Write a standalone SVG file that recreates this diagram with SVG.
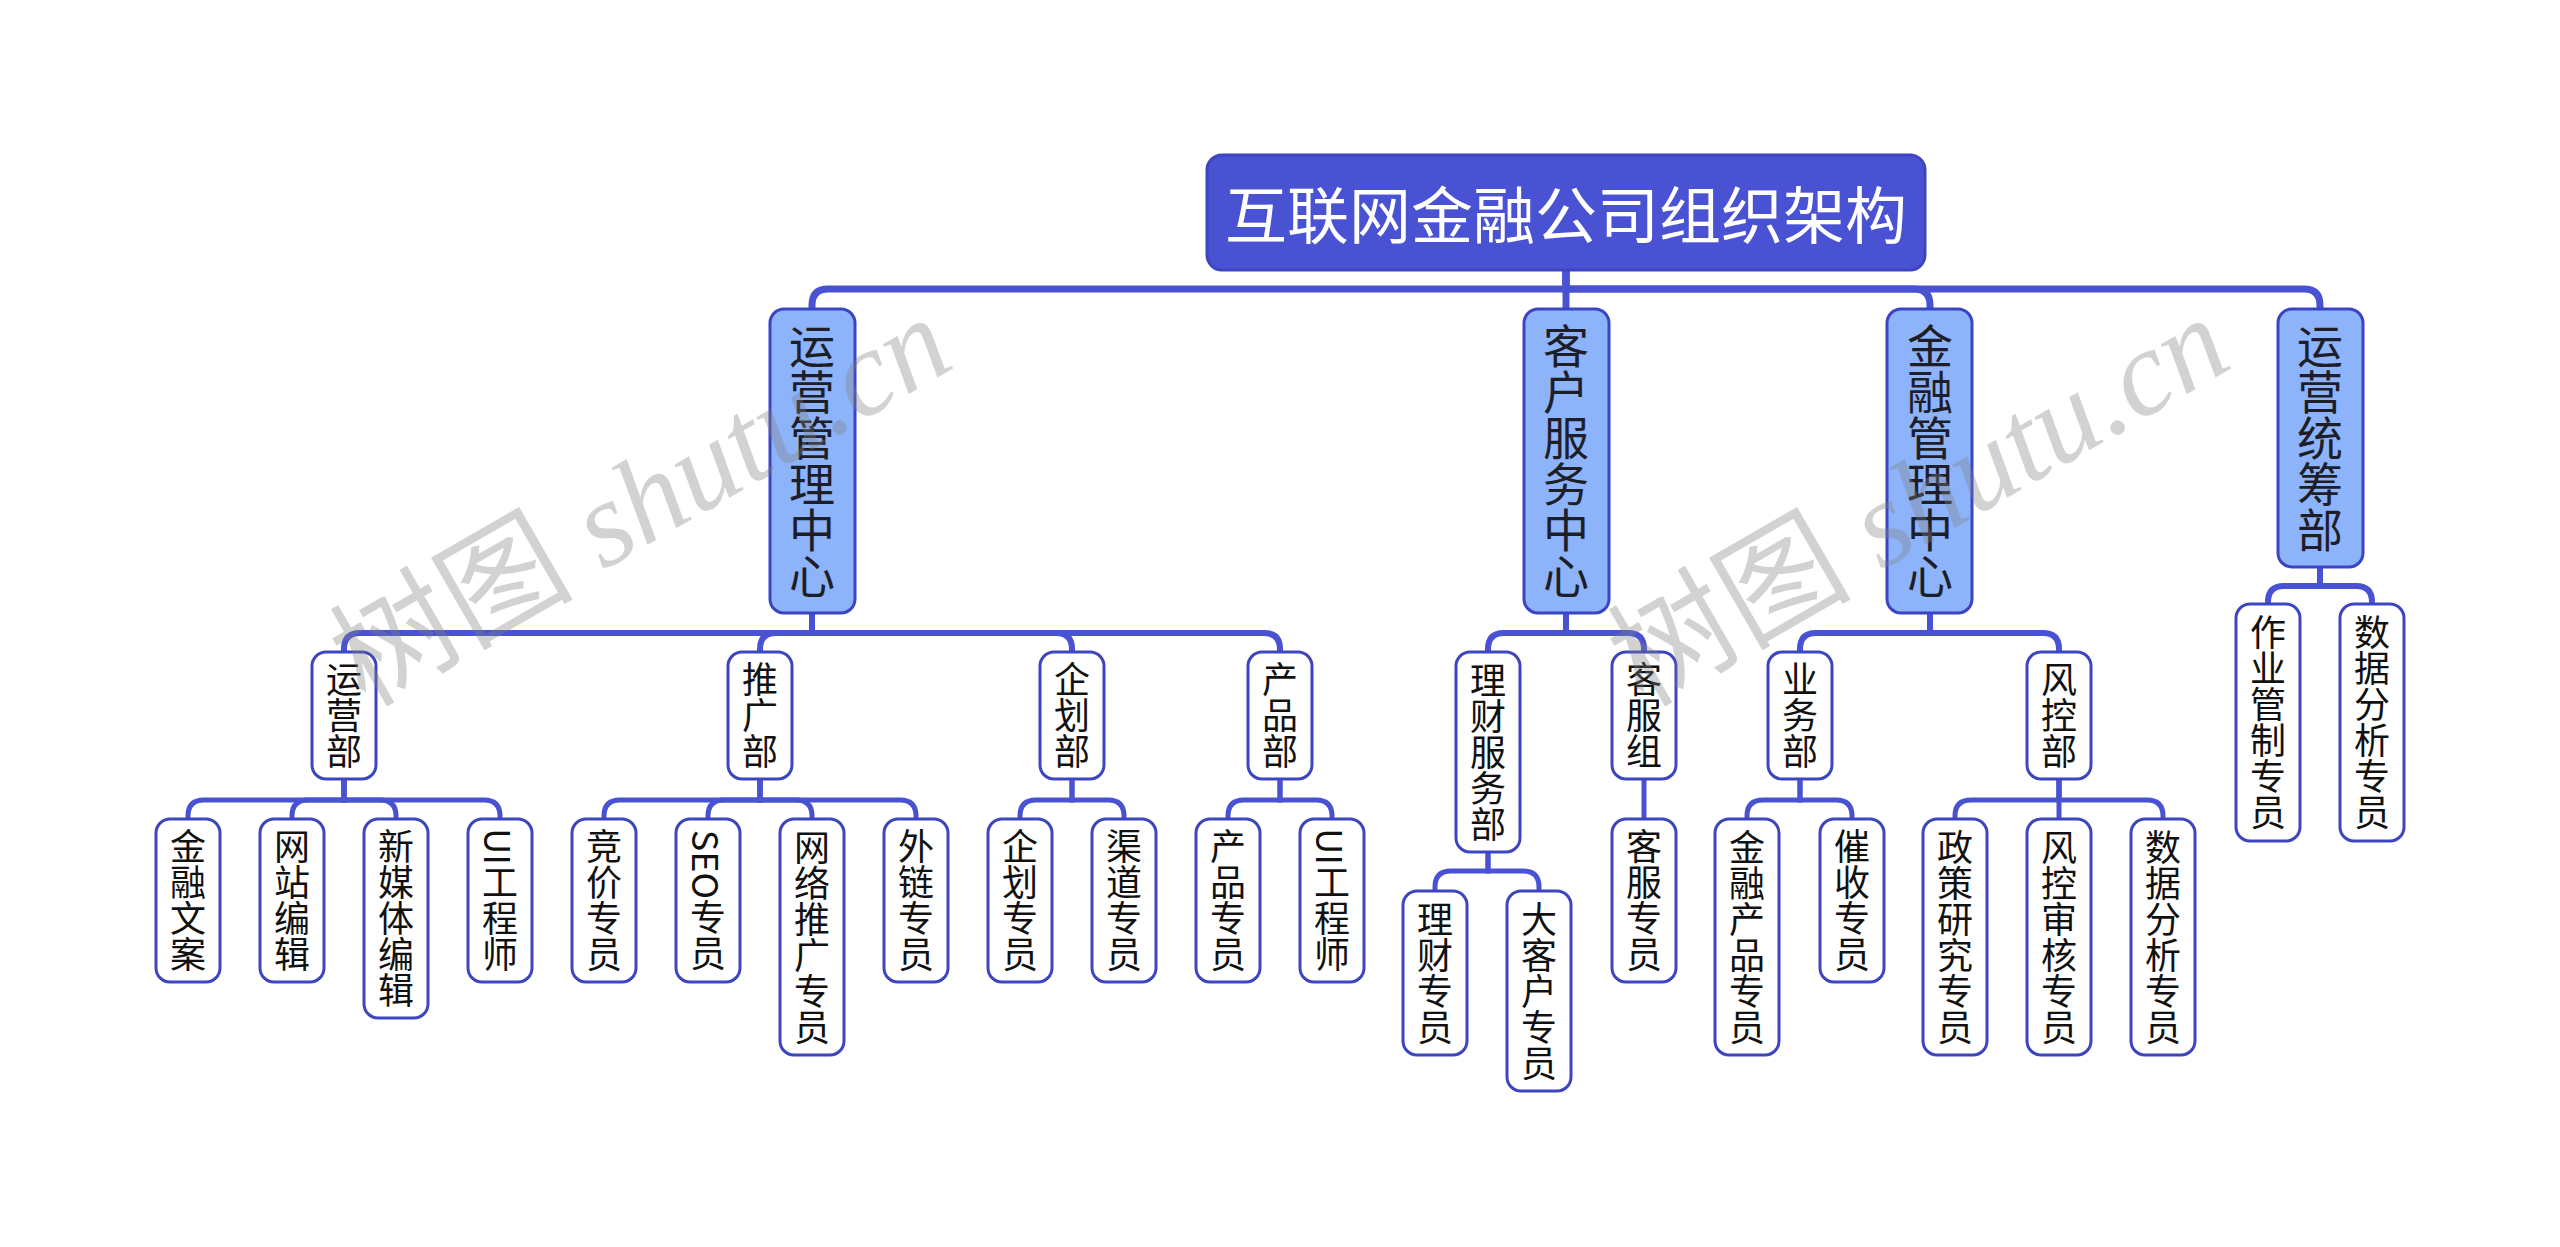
<svg xmlns="http://www.w3.org/2000/svg" width="2560" height="1247" viewBox="0 0 2560 1247">
<style>
.bg{fill:#ffffff}
.c0{fill:none;stroke:#4a52d4;stroke-width:7}
.c1{fill:none;stroke:#4a52d4;stroke-width:6}
.c2{fill:none;stroke:#4a52d4;stroke-width:5}
.root rect{fill:#4a52d4;stroke:#3d45c0;stroke-width:3}
.root text{fill:#ffffff;font-family:"Noto Sans CJK SC","Noto Sans",sans-serif;font-size:62px;text-anchor:middle;dominant-baseline:central}
.l1 rect{fill:#8db4fb;stroke:#3b45c4;stroke-width:3}
.l1 text{fill:#1e1e28;font-family:"Noto Sans CJK SC","Noto Sans",sans-serif;font-size:46px;text-anchor:middle;writing-mode:vertical-rl;dominant-baseline:central}
.nd rect{fill:#ffffff;stroke:#3d45bf;stroke-width:3}
.nd text{fill:#111111;font-family:"Noto Sans CJK SC","Noto Sans",sans-serif;font-size:36px;text-anchor:middle;writing-mode:vertical-rl;dominant-baseline:central}
.wm{fill:#808080;opacity:0.35;font-family:"Liberation Serif","Noto Sans CJK SC",serif;font-size:122px}
</style>
<rect class="bg" x="0" y="0" width="2560" height="1247"/>

<g id="connectors">
  <path class="c0" d="M1566 270 V289 H828 Q812 289 812 305 V309"/>
  <path class="c0" d="M1566 270 V309"/>
  <path class="c0" d="M1566 270 V289 H1914 Q1930 289 1930 305 V309"/>
  <path class="c0" d="M1566 270 V289 H2304 Q2320 289 2320 305 V309"/>

  <path class="c1" d="M812 613 V633 H360 Q344 633 344 649 V652"/>
  <path class="c1" d="M812 613 V633 H776 Q760 633 760 649 V652"/>
  <path class="c1" d="M812 613 V633 H1056 Q1072 633 1072 649 V652"/>
  <path class="c1" d="M812 613 V633 H1264 Q1280 633 1280 649 V652"/>
  <path class="c1" d="M1566 613 V633 H1504 Q1488 633 1488 649 V652"/>
  <path class="c1" d="M1566 613 V633 H1628 Q1644 633 1644 649 V652"/>
  <path class="c1" d="M1930 613 V633 H1816 Q1800 633 1800 649 V652"/>
  <path class="c1" d="M1930 613 V633 H2043 Q2059 633 2059 649 V652"/>
  <path class="c1" d="M2320 567 V586 H2284 Q2268 586 2268 602 V604"/>
  <path class="c1" d="M2320 567 V586 H2356 Q2372 586 2372 602 V604"/>

  <path class="c2" d="M344 779 V800 H204 Q188 800 188 816 V819"/>
  <path class="c2" d="M344 779 V800 H308 Q292 800 292 816 V819"/>
  <path class="c2" d="M344 779 V800 H380 Q396 800 396 816 V819"/>
  <path class="c2" d="M344 779 V800 H484 Q500 800 500 816 V819"/>
  <path class="c2" d="M760 779 V800 H620 Q604 800 604 816 V819"/>
  <path class="c2" d="M760 779 V800 H724 Q708 800 708 816 V819"/>
  <path class="c2" d="M760 779 V800 H796 Q812 800 812 816 V819"/>
  <path class="c2" d="M760 779 V800 H900 Q916 800 916 816 V819"/>
  <path class="c2" d="M1072 779 V800 H1036 Q1020 800 1020 816 V819"/>
  <path class="c2" d="M1072 779 V800 H1108 Q1124 800 1124 816 V819"/>
  <path class="c2" d="M1280 779 V800 H1244 Q1228 800 1228 816 V819"/>
  <path class="c2" d="M1280 779 V800 H1316 Q1332 800 1332 816 V819"/>
  <path class="c2" d="M1488 852 V871 H1451 Q1435 871 1435 887 V891"/>
  <path class="c2" d="M1488 852 V871 H1523 Q1539 871 1539 887 V891"/>
  <path class="c2" d="M1644 779 V819"/>
  <path class="c2" d="M1800 779 V800 H1763 Q1747 800 1747 816 V819"/>
  <path class="c2" d="M1800 779 V800 H1836 Q1852 800 1852 816 V819"/>
  <path class="c2" d="M2059 779 V800 H1971 Q1955 800 1955 816 V819"/>
  <path class="c2" d="M2059 779 V819"/>
  <path class="c2" d="M2059 779 V800 H2147 Q2163 800 2163 816 V819"/>
</g>

<g id="root" class="root">
  <rect x="1207" y="155" width="718" height="115" rx="15"/>
  <text x="1566" y="212">互联网金融公司组织架构</text>
</g>

<g id="n-yunying-center" class="l1"><rect x="770" y="309" width="85" height="304" rx="14"/><text x="812" y="461">运营管理中心</text></g>
<g id="n-kehu-center" class="l1"><rect x="1524" y="309" width="85" height="304" rx="14"/><text x="1566" y="461">客户服务中心</text></g>
<g id="n-jinrong-center" class="l1"><rect x="1887" y="309" width="85" height="304" rx="14"/><text x="1930" y="461">金融管理中心</text></g>
<g id="n-tongchou" class="l1"><rect x="2278" y="309" width="85" height="258" rx="14"/><text x="2320" y="438">运营统筹部</text></g>

<g id="n-yunyingbu" class="nd"><rect x="312" y="652" width="64" height="127" rx="14"/><text x="344" y="715.5">运营部</text></g>
<g id="n-tuiguangbu" class="nd"><rect x="728" y="652" width="64" height="127" rx="14"/><text x="760" y="715.5">推广部</text></g>
<g id="n-qihuabu" class="nd"><rect x="1040" y="652" width="64" height="127" rx="14"/><text x="1072" y="715.5">企划部</text></g>
<g id="n-chanpinbu" class="nd"><rect x="1248" y="652" width="64" height="127" rx="14"/><text x="1280" y="715.5">产品部</text></g>
<g id="n-licaifuwubu" class="nd"><rect x="1456" y="652" width="64" height="200" rx="14"/><text x="1488" y="752">理财服务部</text></g>
<g id="n-kefuzu" class="nd"><rect x="1612" y="652" width="64" height="127" rx="14"/><text x="1644" y="715.5">客服组</text></g>
<g id="n-yewubu" class="nd"><rect x="1768" y="652" width="64" height="127" rx="14"/><text x="1800" y="715.5">业务部</text></g>
<g id="n-fengkongbu" class="nd"><rect x="2027" y="652" width="64" height="127" rx="14"/><text x="2059" y="715.5">风控部</text></g>

<g id="n-jinrongwenan" class="nd"><rect x="156" y="819" width="64" height="163" rx="14"/><text x="188" y="900.5">金融文案</text></g>
<g id="n-wangzhanbianji" class="nd"><rect x="260" y="819" width="64" height="163" rx="14"/><text x="292" y="900.5">网站编辑</text></g>
<g id="n-xinmeiti" class="nd"><rect x="364" y="819" width="64" height="199" rx="14"/><text x="396" y="918.5">新媒体编辑</text></g>
<g id="n-ui1" class="nd"><rect x="468" y="819" width="64" height="163" rx="14"/><text x="500" y="900.5">UI工程师</text></g>
<g id="n-jingjia" class="nd"><rect x="572" y="819" width="64" height="163" rx="14"/><text x="604" y="900.5">竞价专员</text></g>
<g id="n-seo" class="nd"><rect x="676" y="819" width="64" height="163" rx="14"/><text x="708" y="900.5">SEO专员</text></g>
<g id="n-wangluotuiguang" class="nd"><rect x="780" y="819" width="64" height="236" rx="14"/><text x="812" y="937">网络推广专员</text></g>
<g id="n-wailian" class="nd"><rect x="884" y="819" width="64" height="163" rx="14"/><text x="916" y="900.5">外链专员</text></g>
<g id="n-qihuazhuanyuan" class="nd"><rect x="988" y="819" width="64" height="163" rx="14"/><text x="1020" y="900.5">企划专员</text></g>
<g id="n-qudao" class="nd"><rect x="1092" y="819" width="64" height="163" rx="14"/><text x="1124" y="900.5">渠道专员</text></g>
<g id="n-chanpinzhuanyuan" class="nd"><rect x="1196" y="819" width="64" height="163" rx="14"/><text x="1228" y="900.5">产品专员</text></g>
<g id="n-ui2" class="nd"><rect x="1300" y="819" width="64" height="163" rx="14"/><text x="1332" y="900.5">UI工程师</text></g>
<g id="n-licaizhuanyuan" class="nd"><rect x="1403" y="891" width="64" height="164" rx="14"/><text x="1435" y="973">理财专员</text></g>
<g id="n-dakehu" class="nd"><rect x="1507" y="891" width="64" height="200" rx="14"/><text x="1539" y="991">大客户专员</text></g>
<g id="n-kefuzhuanyuan" class="nd"><rect x="1612" y="819" width="64" height="163" rx="14"/><text x="1644" y="900.5">客服专员</text></g>
<g id="n-jinrongchanpin" class="nd"><rect x="1715" y="819" width="64" height="236" rx="14"/><text x="1747" y="937">金融产品专员</text></g>
<g id="n-cuishou" class="nd"><rect x="1820" y="819" width="64" height="163" rx="14"/><text x="1852" y="900.5">催收专员</text></g>
<g id="n-zhengce" class="nd"><rect x="1923" y="819" width="64" height="236" rx="14"/><text x="1955" y="937">政策研究专员</text></g>
<g id="n-fengkongshenhe" class="nd"><rect x="2027" y="819" width="64" height="236" rx="14"/><text x="2059" y="937">风控审核专员</text></g>
<g id="n-shujufenxi1" class="nd"><rect x="2131" y="819" width="64" height="236" rx="14"/><text x="2163" y="937">数据分析专员</text></g>
<g id="n-zuoye" class="nd"><rect x="2236" y="604" width="64" height="237" rx="14"/><text x="2268" y="722.5">作业管制专员</text></g>
<g id="n-shujufenxi2" class="nd"><rect x="2340" y="604" width="64" height="237" rx="14"/><text x="2372" y="722.5">数据分析专员</text></g>

<g id="watermark">
  <text class="wm" x="365" y="708" transform="rotate(-30 365 708)">树图 <tspan font-style="italic">shutu.cn</tspan></text>
  <text class="wm" x="1643" y="708" transform="rotate(-30 1643 708)">树图 <tspan font-style="italic">shutu.cn</tspan></text>
</g>
</svg>
